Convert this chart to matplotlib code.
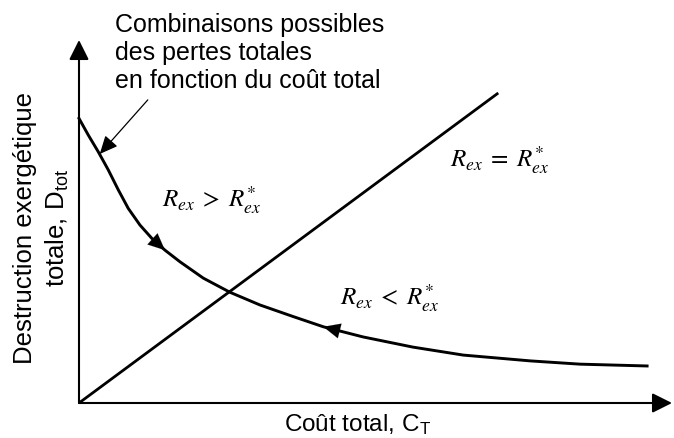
import matplotlib
matplotlib.use("Agg")
import matplotlib.pyplot as plt

# sans labels in Arial-like font, math labels in a serif italic
plt.rcParams['font.family'] = ['Liberation Sans', 'DejaVu Sans']
plt.rcParams['mathtext.fontset'] = 'custom'
plt.rcParams['mathtext.rm'] = 'Liberation Sans'
plt.rcParams['mathtext.it'] = 'Liberation Sans:italic'

# curve of possible combinations (axis units 0..100)
cout = [0.0, 1.57, 3.25, 4.94, 6.63, 8.31, 10.29, 12.26, 14.50, 17.03,
        20.96, 25.46, 30.52, 36.14, 41.20, 47.9, 56.3, 64.8, 76.1, 84.5, 95.8]
destruction = [78.4, 73.8, 69.2, 64.2, 58.7, 53.6, 49.0, 45.4, 42.1, 38.9,
               34.4, 30.5, 27.0, 23.8, 21.0, 18.2, 15.4, 13.2, 11.6, 10.7, 10.2]

# optimum line R_ex = R*_ex
ligne_x = [0.0, 70.7]
ligne_y = [0.0, 85.4]

# arrowheads on the curve: (tip index, tail index)
fleches = [(8, 7), (14, 15)]

annot_texte = "Combinaisons possibles\ndes pertes totales\nen fonction du coût total"
xlabel = "Coût total, C$_{\\mathrm{T}}$"
ylabel = "Destruction exergétique\ntotale, D$_{\\mathrm{tot}}$"
etiquettes = [(r"$R_{ex}\;>\;R_{ex}^{*}$", 22.4, 55.9),
              (r"$R_{ex}\;=\;R_{ex}^{*}$", 71.0, 66.9),
              (r"$R_{ex}\;<\;R_{ex}^{*}$", 52.4, 28.9)]

W, H = 674, 438
fig = plt.figure(figsize=(W / 100, H / 100), dpi=100)
ax = fig.add_axes([79 / W, (H - 403) / H, 593 / W, 363 / H])
ax.set_xlim(0, 100)
ax.set_ylim(0, 100)
ax.axis('off')

# axes with arrowheads
axe_style = '-|>,head_length=0.8,head_width=0.4'
for xy in [(100, 0), (0, 100)]:
    ax.annotate('', xy=xy, xytext=(0, 0), annotation_clip=False,
                arrowprops=dict(arrowstyle=axe_style, color='black', lw=1.5,
                                mutation_scale=15, shrinkA=0, shrinkB=0))

ax.plot(ligne_x, ligne_y, color='black', lw=2.0, solid_capstyle='butt', clip_on=False)
ax.plot(cout, destruction, color='black', lw=2.1, clip_on=False,
        solid_joinstyle='round')

for tip, tail in fleches:
    ax.annotate('', xy=(cout[tip], destruction[tip]),
                xytext=(cout[tail], destruction[tail]),
                arrowprops=dict(arrowstyle='-|>,head_length=0.6,head_width=0.27',
                                color='black', lw=0.1, mutation_scale=20,
                                shrinkA=0, shrinkB=0))

# callout
ax.text(6.07, 86.8, annot_texte, fontsize=18, ha='left', va='baseline',
        linespacing=1.2, clip_on=False)
ax.annotate('', xy=(3.5, 68.6), xytext=(11.6, 83.5), annotation_clip=False,
            arrowprops=dict(arrowstyle='-|>,head_length=0.55,head_width=0.25',
                            color='black', lw=0.9, mutation_scale=20,
                            shrinkA=0, shrinkB=0))

for txt, x, y in etiquettes:
    ax.text(x, y, txt, fontsize=18, ha='center', va='center',
            math_fontfamily='stix')

ax.text(46.9, -6.0, xlabel, fontsize=17.5, ha='center', va='center', clip_on=False)
ax.text(-6.25, 48.2, ylabel, fontsize=18.5, ha='center', va='center',
        rotation=90, multialignment='center', linespacing=1.33, clip_on=False)

fig.savefig('out.png', dpi=100)
